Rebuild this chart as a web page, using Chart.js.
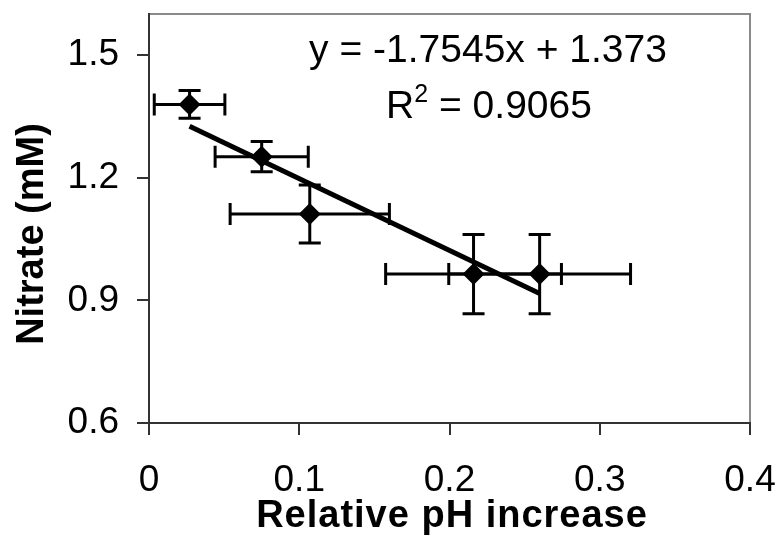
<!DOCTYPE html>
<html>
<head>
<meta charset="utf-8">
<script src="https://cdn.jsdelivr.net/npm/chart.js@4.4.1/dist/chart.umd.min.js"></script>
<style>
  body { margin: 0; background: #fff; }
</style>
</head>
<body>
<canvas id="nitrateChart" width="781" height="540"></canvas>
<script>
// values
const phIncrease = [0.027, 0.075, 0.107, 0.216, 0.260];
const nitrate = [1.379, 1.251, 1.111, 0.964, 0.964];
const phErr = [0.0235, 0.031, 0.053, 0.0585, 0.0605];
const nitrateErr = [0.034, 0.037, 0.071, 0.097, 0.097];
const fitSlope = -1.7545;
const fitIntercept = 1.373;
const fitR2 = '0.9065';

const FONT = '"Liberation Sans", Arial, sans-serif';
Chart.defaults.font.family = FONT;
Chart.defaults.color = '#000';

const points = phIncrease.map((x, i) => ({ x: x, y: nitrate[i] }));
const xMin = Math.min(...phIncrease);
const xMax = Math.max(...phIncrease);
const fitLine = [
  { x: xMin, y: fitSlope * xMin + fitIntercept },
  { x: xMax, y: fitSlope * xMax + fitIntercept }
];

// frame, error bars and the text blocks
const extras = {
  id: 'extras',
  beforeDraw(chart) {
    const { ctx, chartArea: a } = chart;
    ctx.save();
    ctx.strokeStyle = '#8a8a8a';
    ctx.lineWidth = 2;
    ctx.strokeRect(a.left, a.top, a.right - a.left, a.bottom - a.top);
    ctx.restore();
  },
  afterDatasetsDraw(chart) {
    const { ctx, scales: { x, y } } = chart;
    const cap = 11;
    ctx.save();
    ctx.strokeStyle = '#000';
    ctx.lineWidth = 3;
    phIncrease.forEach((v, i) => {
      const px = x.getPixelForValue(v);
      const py = y.getPixelForValue(nitrate[i]);
      const x0 = x.getPixelForValue(v - phErr[i]);
      const x1 = x.getPixelForValue(v + phErr[i]);
      const y0 = y.getPixelForValue(nitrate[i] - nitrateErr[i]);
      const y1 = y.getPixelForValue(nitrate[i] + nitrateErr[i]);
      ctx.beginPath();
      ctx.moveTo(x0, py); ctx.lineTo(x1, py);
      ctx.moveTo(x0, py - cap); ctx.lineTo(x0, py + cap);
      ctx.moveTo(x1, py - cap); ctx.lineTo(x1, py + cap);
      ctx.moveTo(px, y0); ctx.lineTo(px, y1);
      ctx.moveTo(px - cap, y0); ctx.lineTo(px + cap, y0);
      ctx.moveTo(px - cap, y1); ctx.lineTo(px + cap, y1);
      ctx.stroke();
    });

    ctx.fillStyle = '#000';
    ctx.textBaseline = 'alphabetic';
    // trendline equation
    ctx.font = '39px ' + FONT;
    ctx.textAlign = 'center';
    ctx.fillText('y = ' + fitSlope + 'x + ' + fitIntercept, 488, 62);
    // R squared with superscript
    const left = 'R', rest = ' = ' + fitR2;
    ctx.font = '39px ' + FONT;
    const wR = ctx.measureText(left).width;
    const wRest = ctx.measureText(rest).width;
    ctx.font = '25px ' + FONT;
    const wSup = ctx.measureText('2').width;
    let sx = 489 - (wR + wSup + wRest) / 2;
    ctx.textAlign = 'left';
    ctx.font = '39px ' + FONT;
    ctx.fillText(left, sx, 118);
    ctx.font = '25px ' + FONT;
    ctx.fillText('2', sx + wR, 102);
    ctx.font = '39px ' + FONT;
    ctx.fillText(rest, sx + wR + wSup, 118);

    // axis titles
    ctx.font = 'bold 38px ' + FONT;
    ctx.textAlign = 'center';
    ctx.letterSpacing = '1px';
    ctx.fillText('Relative pH increase', 452, 527);
    ctx.letterSpacing = '0px';
    ctx.translate(43, 234);
    ctx.rotate(-Math.PI / 2);
    ctx.fillText('Nitrate (mM)', 0, 0);
    ctx.restore();
  }
};

new Chart(document.getElementById('nitrateChart'), {
  type: 'scatter',
  data: {
    datasets: [{
      label: 'Nitrate',
      data: points,
      pointStyle: 'rectRot',
      pointRadius: 11,
      pointHoverRadius: 11,
      backgroundColor: '#000',
      borderColor: '#000',
      borderWidth: 0
    }, {
      type: 'line',
      label: 'Linear fit',
      data: fitLine,
      borderColor: '#000',
      borderWidth: 5,
      pointRadius: 0,
      fill: false
    }]
  },
  options: {
    responsive: false,
    animation: false,
    devicePixelRatio: 1,
    layout: {
      padding: { top: 14, right: 31, left: 0, bottom: 0 }
    },
    scales: {
      x: {
        type: 'linear',
        min: 0,
        max: 0.4,
        afterFit: s => { s.height = 117; s.paddingLeft = 0; s.paddingRight = 0; },
        border: { color: '#333', width: 2 },
        grid: { drawOnChartArea: false, tickLength: 12, color: '#333', lineWidth: 2 },
        ticks: { stepSize: 0.1, padding: 24, font: { size: 37 }, maxRotation: 0, includeBounds: false }
      },
      y: {
        min: 0.6,
        max: 1.6,
        afterFit: s => { s.width = 149; s.paddingTop = 0; s.paddingBottom = 0; },
        border: { color: '#333', width: 2 },
        grid: { drawOnChartArea: false, tickLength: 12, color: '#333', lineWidth: 2 },
        ticks: { stepSize: 0.3, padding: 18, font: { size: 37 }, includeBounds: false }
      }
    },
    plugins: {
      legend: { display: false },
      tooltip: { enabled: false }
    }
  },
  plugins: [extras]
});
</script>
</body>
</html>
